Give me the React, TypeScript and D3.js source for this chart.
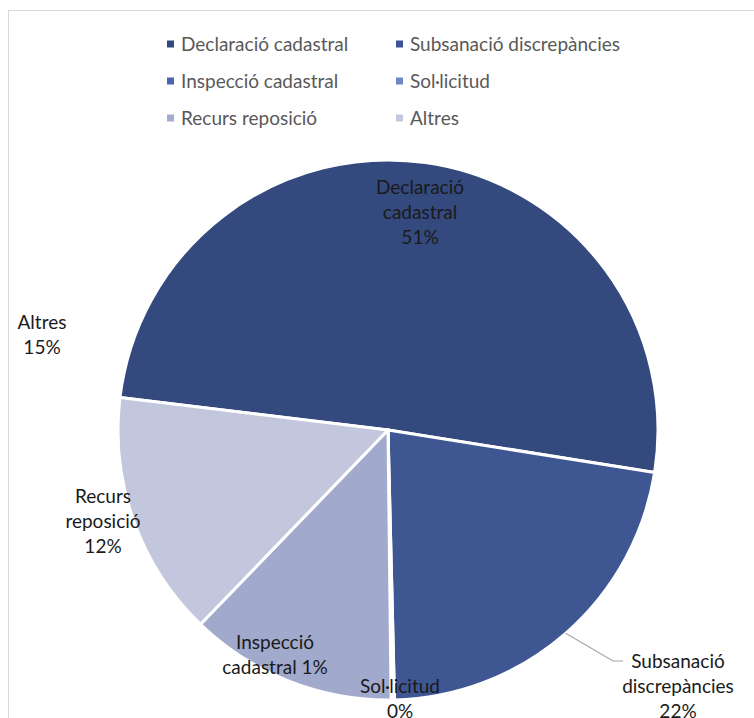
import React from "react";
import * as d3 from "d3";

const categories = [
  "Declaració cadastral",
  "Subsanació discrepàncies",
  "Inspecció cadastral",
  "Sol·licitud",
  "Recurs reposició",
  "Altres",
];
const values = [50.6, 22.1, 0.15, 0.05, 12.4, 14.7];
const pctLabels = ["51%", "22%", "1%", "0%", "12%", "15%"];
const sliceColors = ["#34497d", "#3e5692", "#4a65ab", "#6f87c2", "#a1a9cc", "#c3c7dd"];
const legendColors = ["#2f4a80", "#3c5496", "#4a66b0", "#6f88c4", "#a0abd0", "#c3c9df"];

// label text lines & layout (relative to pie centre)
const labelLines: string[][] = [
  ["Declaració", "cadastral", pctLabels[0]],
  ["Subsanació", "discrepàncies", pctLabels[1]],
  ["Inspecció", "cadastral " + pctLabels[2]],
  ["Sol·licitud", pctLabels[3]],
  ["Recurs", "reposició", pctLabels[4]],
  ["Altres", pctLabels[5]],
];
const labelPos: [number, number][] = [
  [32, -243],
  [290, 231],
  [-113, 212],
  [12, 256],
  [-285, 66],
  [-346, -108],
];

const W = 754;
const H = 718;
const cx = 388;
const cy = 430;
const R = 270;
const startDeg = -83.1;

export default function App() {
  const pie = d3
    .pie<number>()
    .sort(null)
    .value((d) => d)
    .startAngle((startDeg * Math.PI) / 180)
    .endAngle((startDeg * Math.PI) / 180 + 2 * Math.PI);
  const arcs = pie(values);
  const arc = d3.arc<d3.PieArcDatum<number>>().innerRadius(0).outerRadius(R);

  // leader line for Subsanació
  const sub = arcs[1];
  const leadAng = (sub.startAngle + sub.endAngle) / 2;
  const lp0: [number, number] = [R * Math.sin(leadAng), -R * Math.cos(leadAng)];

  const font = "Lato, 'Noto Sans', sans-serif";
  const lh = 25;
  const fs = 19;

  return (
    <svg
      width={W}
      height={H}
      style={{ position: "absolute", left: 0, top: 0, background: "#fff" }}
      fontFamily={font}
    >
      <rect x={8.5} y={10.5} width={W + 10} height={H + 10} fill="#fff" stroke="#d9d9d9" strokeWidth={1} />
      {/* legend */}
      {categories.map((c, i) => {
        const col = i % 2;
        const row = Math.floor(i / 2);
        const x = col === 0 ? 167 : 396;
        const y = 44 + row * 37;
        return (
          <g key={c}>
            <rect x={x} y={y - 3.5} width={7} height={7} fill={legendColors[i]} />
            <text x={x + 14} y={y} dy="0.35em" fontSize={fs} fill="#595959">
              {c}
            </text>
          </g>
        );
      })}
      <g transform={`translate(${cx},${cy})`}>
        {arcs.map((a, i) => (
          <path key={i} d={arc(a) || ""} fill={sliceColors[i]} stroke="#fff" strokeWidth={3} strokeLinejoin="round" />
        ))}
        <polyline
          points={`${lp0[0]},${lp0[1]} ${labelPos[1][0] - 65},${labelPos[1][1]} ${labelPos[1][0] - 55},${labelPos[1][1]}`}
          fill="none"
          stroke="#a6a6a6"
          strokeWidth={1.2}
        />
        {labelLines.map((lines, i) => (
          <text key={i} fontSize={fs} fill="#1a1a1a" textAnchor="middle">
            {lines.map((t, j) => (
              <tspan key={j} x={labelPos[i][0]} y={labelPos[i][1] + j * lh} dy="0.35em">
                {t}
              </tspan>
            ))}
          </text>
        ))}
      </g>
    </svg>
  );
}
